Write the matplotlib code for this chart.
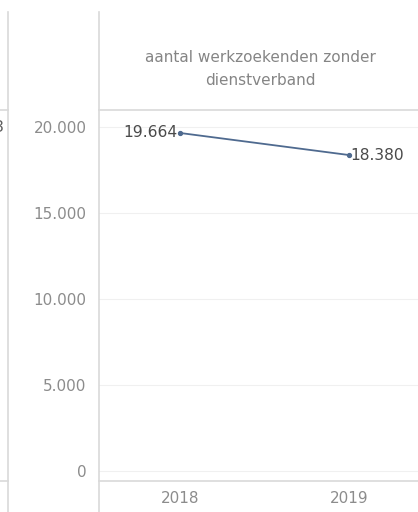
import matplotlib.pyplot as plt
from matplotlib.lines import Line2D
from matplotlib.ticker import FuncFormatter

years = ["2018", "2019"]
werkzoekenden = [19664, 18380]
y_ticks = [0, 5000, 10000, 15000, 20000]
header = "aantal werkzoekenden zonder\ndienstverband"

W, H = 418, 512
fig = plt.figure(figsize=(W / 100, H / 100), dpi=100)
fig.patch.set_facecolor("white")


def px(x, y):
    # pixel coords (top-left origin) -> figure fraction
    return x / W, 1 - y / H


def nl(v):
    # dutch thousands separator
    return f"{int(v):,}".replace(",", ".")


# plot area
x0, x1, ytop, ybot = 99, 418, 110, 481
ax = fig.add_axes([x0 / W, 1 - ybot / H, (x1 - x0) / W, (ybot - ytop) / H])
ax.set_xlim(-0.479, 1.408)
ax.set_ylim(-580, 21000)
for s in ax.spines.values():
    s.set_visible(False)
ax.set_yticks(y_ticks)
ax.yaxis.set_major_formatter(FuncFormatter(lambda v, _: nl(v)))
ax.tick_params(axis="y", length=0, pad=9, labelsize=11, labelcolor="#8c8c8c")
ax.set_xticks(range(len(years)))
ax.set_xticklabels(years)
ax.tick_params(axis="x", length=0, pad=7, labelsize=11, labelcolor="#8c8c8c")
ax.grid(axis="y", color="#f0f0f0", lw=0.8)
ax.set_axisbelow(True)

xs = list(range(len(years)))
ax.plot(xs, werkzoekenden, color="#4f6a8f", lw=1.3, marker="o", ms=2.8, zorder=3)
ax.annotate(nl(werkzoekenden[0]), (xs[0], werkzoekenden[0]),
            xytext=(-1.5, 0), textcoords="offset points", ha="right", va="center",
            fontsize=11.2, color="#4a4a4a")
ax.annotate(nl(werkzoekenden[1]), (xs[1], werkzoekenden[1]),
            xytext=(1, 0), textcoords="offset points", ha="left", va="center",
            fontsize=11.2, color="#4a4a4a")

# header text
fig.text(*px(260, 69), header, ha="center", va="center", fontsize=11,
         color="#858585", linespacing=1.6)

# frame lines (Tableau-like pane borders)
line_c = "#d9d9d9"
segs = [
    ((8, 12), (8, 512)),
    ((99, 12), (99, 512)),
    ((99, 110), (418, 110)),
    ((0, 110), (8, 110)),
    ((99, 481), (418, 481)),
    ((0, 481), (8, 481)),
]
for (ax_, ay), (bx, by) in segs:
    p0, p1 = px(ax_, ay), px(bx, by)
    fig.add_artist(Line2D([p0[0], p1[0]], [p0[1], p1[1]], color=line_c, lw=1.2))

# clipped remnant of the neighbouring panel label
fig.text(*px(4, 127), "3", ha="right", va="center", fontsize=11.5, color="#606060")

fig.savefig("out.png", dpi=100)
